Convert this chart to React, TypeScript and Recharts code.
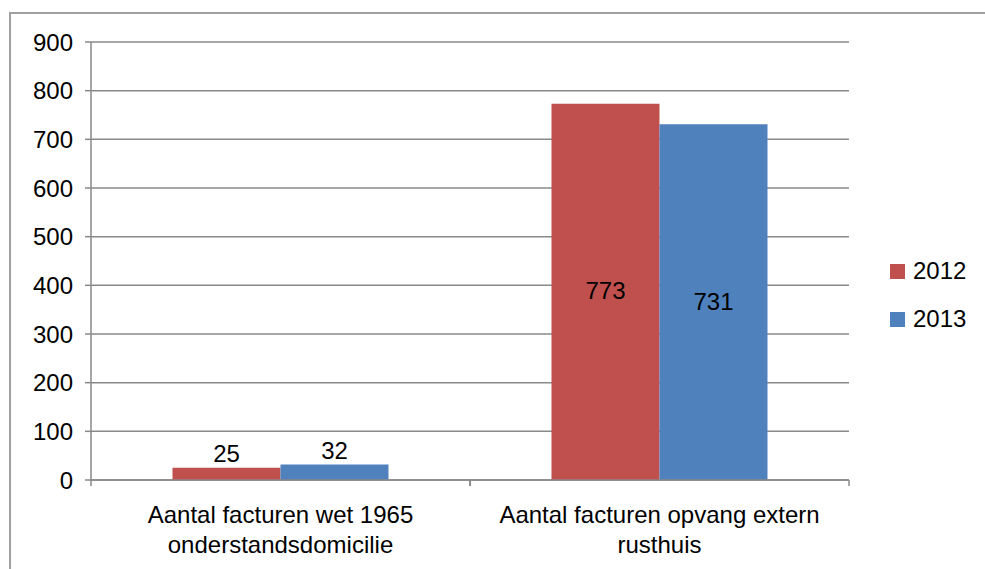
import { Bar, BarChart, CartesianGrid, LabelList, Legend, XAxis, YAxis } from "recharts";

// categorie-labels, "\n" = regelafbreking onder de as
const categories = [
  "Aantal facturen wet 1965\nonderstandsdomicilie",
  "Aantal facturen opvang extern\nrusthuis",
];
const values2012 = [25, 773];
const values2013 = [32, 731];
const yTicks = [0, 100, 200, 300, 400, 500, 600, 700, 800, 900];

const data = categories.map((cat, i) => ({ cat, y2012: values2012[i], y2013: values2013[i] }));

const FONT = "'Liberation Sans', Arial, sans-serif";
const FS = 24;
const axisColor = "#898989";
const red = "#C0504D";
const blue = "#4F81BD";

function CategoryTick(props: any) {
  const { x, y, payload } = props;
  const half = payload?.offset ?? 189.5;
  const lines = String(payload.value).split("\n");
  return (
    <g>
      <line x1={x - half} x2={x - half} y1={y} y2={y + 6} stroke={axisColor} strokeWidth={1.5} />
      <line x1={x + half} x2={x + half} y1={y} y2={y + 6} stroke={axisColor} strokeWidth={1.5} />
      <text x={x} y={y} textAnchor="middle" fontSize={FS} fontFamily={FONT} fill="#000">
        {lines.map((l, i) => (
          <tspan key={i} x={x} y={y + 43 + i * 30}>
            {l}
          </tspan>
        ))}
      </text>
    </g>
  );
}

function BarValue(props: any) {
  const { x, y, width, height, value } = props;
  const inside = height > 40;
  return (
    <text
      x={x + width / 2}
      y={inside ? y + height / 2 - 1 : y - 14}
      textAnchor="middle"
      dominantBaseline="central"
      fontSize={FS}
      fontFamily={FONT}
      fill="#000"
    >
      {value}
    </text>
  );
}

function LegendContent(props: any) {
  const { payload } = props;
  return (
    <div style={{ display: "flex", flexDirection: "column" }}>
      {(payload || []).map((entry: any) => (
        <div key={entry.value} style={{ display: "flex", alignItems: "center", height: 48 }}>
          <span style={{ width: 15, height: 15, background: entry.color, marginRight: 8, display: "inline-block" }} />
          <span style={{ fontSize: FS, fontFamily: FONT, color: "#000" }}>{entry.value}</span>
        </div>
      ))}
    </div>
  );
}

export default function App() {
  return (
    <div style={{ position: "relative", width: 985, height: 569, overflow: "hidden", background: "#fff" }}>
      <style>{`html, body { margin: 0; padding: 0; overflow: hidden; }`}</style>
      <div
        style={{
          position: "absolute",
          left: 9,
          top: 12,
          width: 1100,
          height: 1100,
          borderTop: "2px solid #a0a0a0",
          borderLeft: "2px solid #a0a0a0",
        }}
      />
      <div style={{ position: "absolute", left: 8, top: 8 }}>
        <BarChart
          width={977}
          height={561}
          data={data}
          margin={{ top: 34, right: 136, bottom: 9, left: 10 }}
          barCategoryGap="21.5%"
          barGap={0}
          style={{ fontFamily: FONT }}
        >
          <CartesianGrid vertical={false} stroke={axisColor} strokeWidth={1.5} />
          <XAxis
            dataKey="cat"
            interval={0}
            height={80}
            tickLine={false}
            tickSize={0}
            tickMargin={0}
            axisLine={{ stroke: axisColor, strokeWidth: 1.5 }}
            tick={<CategoryTick />}
          />
          <YAxis
            width={73}
            domain={[0, 900]}
            ticks={yTicks}
            interval={0}
            tickSize={6}
            tickMargin={12}
            axisLine={{ stroke: axisColor, strokeWidth: 1.5 }}
            tickLine={{ stroke: axisColor, strokeWidth: 1.5 }}
            tick={{ fontSize: FS, fill: "#000", fontFamily: FONT }}
          />
          <Legend
            layout="horizontal"
            align="center"
            verticalAlign="middle"
            content={<LegendContent />}
            wrapperStyle={{ left: 882, top: 239, width: 90 }}
          />
          <Bar dataKey="y2012" name="2012" fill={red} isAnimationActive={false}>
            <LabelList dataKey="y2012" content={<BarValue />} />
          </Bar>
          <Bar dataKey="y2013" name="2013" fill={blue} isAnimationActive={false}>
            <LabelList dataKey="y2013" content={<BarValue />} />
          </Bar>
        </BarChart>
      </div>
    </div>
  );
}
